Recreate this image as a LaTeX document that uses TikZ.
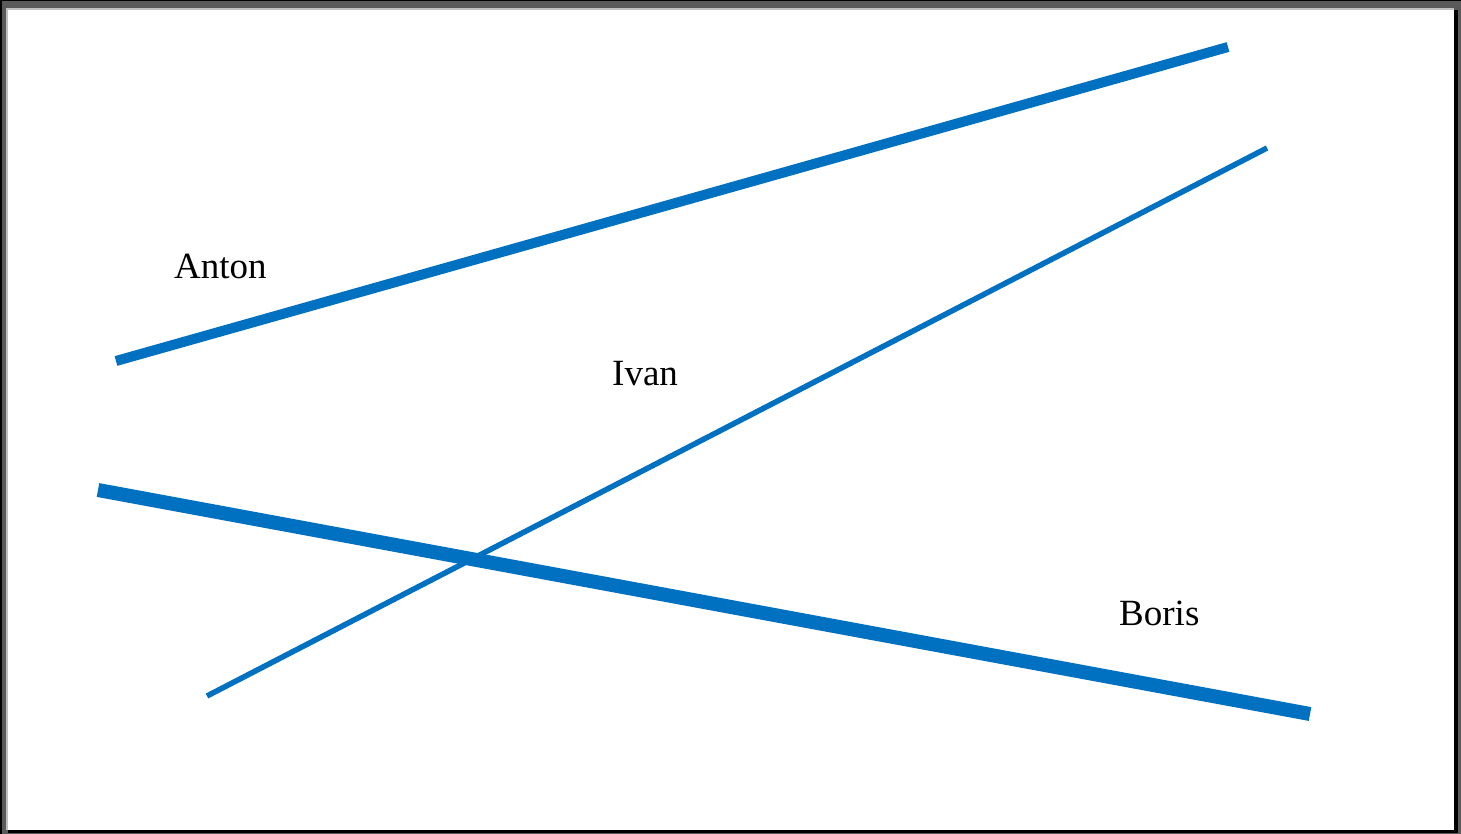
\documentclass[tikz,border=0pt]{standalone}
\usepackage{fontspec}
\setmainfont{Liberation Serif}
\definecolor{lineblue}{HTML}{0070C0}
\definecolor{framegray}{HTML}{5A5A5A}
\definecolor{edgegray}{HTML}{C0C0C0}
\tikzset{
  bar/.style={draw=lineblue, line cap=butt},
  name label/.style={anchor=base west, inner sep=0pt, font=\fontsize{37}{41}\selectfont},
}
\begin{document}
\begin{tikzpicture}[x=1pt,y=-1pt]
\useasboundingbox (0,0) rectangle (1461,834);
% frame
\fill[framegray] (0,0) rectangle (1461,834);
\fill[black] (0,0) rectangle (1461,1.5);
\fill[black] (0,0) rectangle (2,834);
\fill[edgegray] (6,8) rectangle (1454,10);
\fill[edgegray] (6,8) rectangle (8,830);
\fill[white] (8,10) rectangle (1454,830);
\fill[black] (1454,10) rectangle (1458,833);
\fill[black] (8,830) rectangle (1458,833);
% end points
\coordinate (a1) at (116,361);
\coordinate (a2) at (1228,47);
\coordinate (i1) at (207,696);
\coordinate (i2) at (1267,148);
\coordinate (b1) at (98,490);
\coordinate (b2) at (1310,714);
% lines
\draw[bar, line width=10pt] (a1) -- (a2);
\draw[bar, line width=5.5pt] (i1) -- (i2);
\draw[bar, line width=14pt] (b1) -- (b2);
% labels
\node[name label] (anton) at (174,279) {Anton};
\node[name label] (ivan) at (612,385) {Ivan};
\node[name label] (boris) at (1119,625) {Boris};
\end{tikzpicture}
\end{document}
